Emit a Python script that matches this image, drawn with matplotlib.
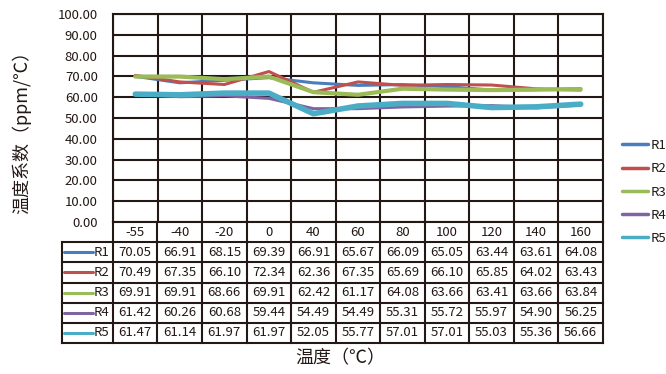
import numpy as np
import matplotlib
matplotlib.use('Agg')
import matplotlib.pyplot as plt

plt.rcParams['font.family'] = ['Noto Sans CJK SC', 'DejaVu Sans']

# datos
temps = ['-55', '-40', '-20', '0', '40', '60', '80', '100', '120', '140', '160']
r1 = [70.05, 66.91, 68.15, 69.39, 66.91, 65.67, 66.09, 65.05, 63.44, 63.61, 64.08]
r2 = [70.49, 67.35, 66.10, 72.34, 62.36, 67.35, 65.69, 66.10, 65.85, 64.02, 63.43]
r3 = [69.91, 69.91, 68.66, 69.91, 62.42, 61.17, 64.08, 63.66, 63.41, 63.66, 63.84]
r4 = [61.42, 60.26, 60.68, 59.44, 54.49, 54.49, 55.31, 55.72, 55.97, 54.90, 56.25]
r5 = [61.47, 61.14, 61.97, 61.97, 52.05, 55.77, 57.01, 57.01, 55.03, 55.36, 56.66]
names = ['R1', 'R2', 'R3', 'R4', 'R5']
series = [r1, r2, r3, r4, r5]
colors = ['#4A7EBB', '#C0504D', '#9BBB59', '#8064A2', '#4BACC6']
widths = [2.2, 2.2, 3.0, 2.2, 4.0]

W, H = 666, 374
ink = '#231815'
fig = plt.figure(figsize=(W / 100, H / 100), dpi=100)


def px_axes(l, t, r, b):
    return fig.add_axes([l / W, 1 - b / H, (r - l) / W, (b - t) / H])


x = np.arange(len(temps))

# grafico principal
ax = px_axes(113, 14, 603, 222)
lines = []
for name, vals, c, lw in zip(names, series, colors, widths):
    ln, = ax.plot(x, vals, color=c, lw=lw, label=name,
                  solid_capstyle='round', solid_joinstyle='round', zorder=3)
    lines.append(ln)
ax.set_xlim(-0.5, len(temps) - 0.5)
ax.set_ylim(0, 100)
ax.set_yticks(np.arange(0, 101, 10))
ax.set_yticklabels([f'{v:.2f}' for v in range(0, 101, 10)], fontsize=9.5, color=ink)
ax.set_xticks([])
ax.set_xticks(np.arange(-0.5, len(temps), 1), minor=True)
ax.tick_params(axis='y', length=0, pad=11)
ax.tick_params(axis='x', which='both', length=0, labelbottom=False)
ax.grid(True, axis='y', color=ink, lw=1.5)
ax.grid(True, axis='x', which='minor', color=ink, lw=1.5)
for s in ax.spines.values():
    s.set_color(ink)
    s.set_linewidth(1.5)
ax.set_ylabel('温度系数（ppm/℃）', fontsize=13, color=ink)
ax.yaxis.set_label_coords((31 - 113) / 490, (222 - 128) / 208)

# tabla de datos
tax = px_axes(62, 222, 603, 343)
left = -0.5 - 51 / 44.6
tax.set_xlim(left, len(temps) - 0.5)
tax.set_ylim(6, 0)
tax.axis('off')
nrow = len(names) + 1
for k in range(1, nrow + 1):
    tax.plot([left, len(temps) - 0.5], [k, k], color=ink, lw=1.5, clip_on=False)
for b in np.arange(-0.5, len(temps), 1):
    tax.plot([b, b], [0, nrow], color=ink, lw=1.5, clip_on=False)
tax.plot([left, left], [1, nrow], color=ink, lw=1.5, clip_on=False)
for i, t in enumerate(temps):
    tax.text(i, 0.5, t, ha='center', va='center', fontsize=9.5, color=ink)
for j, (name, vals, c) in enumerate(zip(names, series, colors)):
    yy = j + 1.5
    tax.plot([left + 2 / 44.6, left + 31 / 44.6], [yy, yy], color=c, lw=2.2,
             solid_capstyle='round', clip_on=False)
    tax.text(left + 32 / 44.6, yy, name, ha='left', va='center', fontsize=9.5, color=ink)
    for i, v in enumerate(vals):
        tax.text(i, yy, f'{v:.2f}', ha='center', va='center', fontsize=9.5, color=ink)

fig.text(340 / W, 1 - 358 / H, '温度（℃）', ha='center', va='center', fontsize=13, color=ink)

# leyenda
leg = fig.legend(handles=lines, loc='center left', bbox_to_anchor=(622 / W, 1 - 192 / H),
                 frameon=False, fontsize=9.5, handlelength=2.0, handletextpad=0.15,
                 labelspacing=0.78, borderpad=0, borderaxespad=0)
for h in leg.legend_handles:
    h.set_linewidth(2.5)
for t in leg.get_texts():
    t.set_color(ink)

fig.savefig('out.png', dpi=100)
